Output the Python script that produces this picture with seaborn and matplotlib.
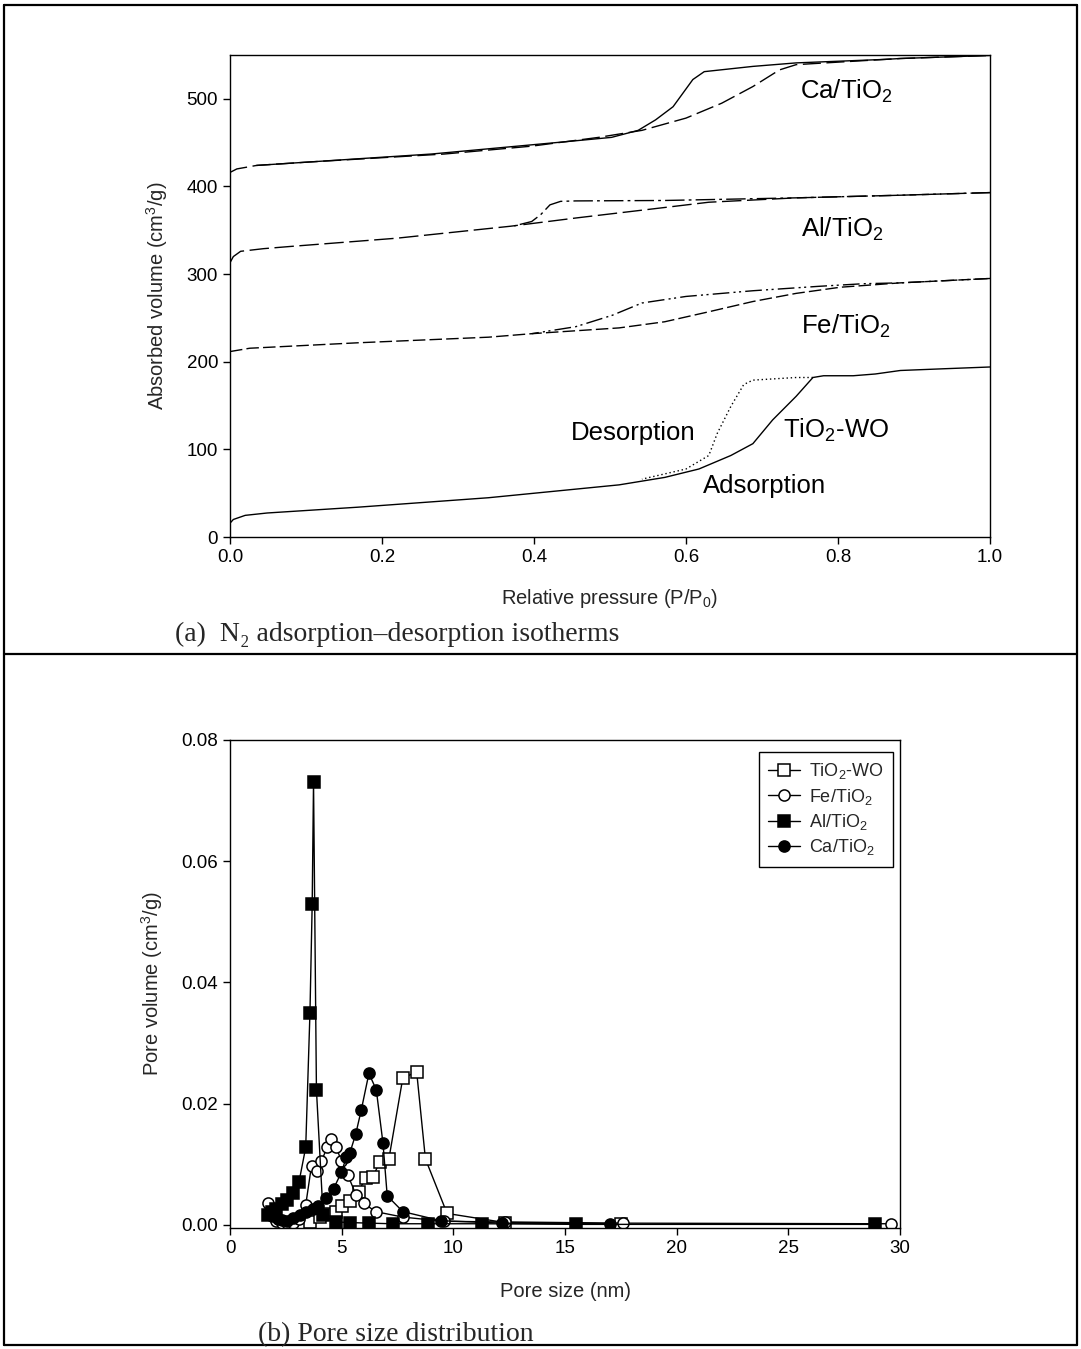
import matplotlib
matplotlib.use('Agg')
import matplotlib.pyplot as plt
import pandas as pd
import seaborn as sns
from matplotlib.lines import Line2D

# (a) N2 isotherms, relative pressure vs absorbed volume (cm3/g)
ca_ads_p = [0.0, 0.009, 0.035, 0.106, 0.282, 0.397, 0.485, 0.542, 0.6, 0.647, 0.688, 0.723, 0.745, 0.803, 0.882, 1.0]
ca_ads_v = [416, 420, 424, 428, 437, 446, 456, 464, 478, 495, 514, 533, 539, 542, 546, 549.5]
ca_des_p = [1.0, 0.882, 0.862, 0.745, 0.688, 0.624, 0.609, 0.583, 0.56, 0.537, 0.502, 0.441, 0.353, 0.265, 0.176, 0.088, 0.035]
ca_des_v = [549.5, 546, 545, 541, 537, 531, 522, 491, 476, 464, 456, 451, 444, 437, 432, 427, 424]

al_ads_p = [0.0, 0.0044, 0.014, 0.044, 0.079, 0.22, 0.369, 0.455, 0.572, 0.63, 0.745, 0.882, 1.0]
al_ads_v = [313, 320, 326, 329, 331.5, 341, 354.6, 364, 376, 382, 387, 390, 393]
al_des_p = [1.0, 0.882, 0.745, 0.572, 0.455, 0.435, 0.421, 0.409, 0.397, 0.374]
al_des_v = [393, 390, 387, 384, 383.5, 383, 379, 368, 360, 355]

fe_ads_p = [0.0, 0.026, 0.168, 0.34, 0.397, 0.512, 0.572, 0.63, 0.688, 0.745, 0.803, 0.882, 1.0]
fe_ads_v = [211.6, 215.4, 221.6, 228, 232, 238.6, 245.6, 257, 268.7, 278, 285, 290, 295]
fe_des_p = [1.0, 0.882, 0.833, 0.774, 0.688, 0.6, 0.542, 0.503, 0.455, 0.397]
fe_des_v = [295, 290, 289, 286, 281, 274.5, 267, 253, 240, 232]

wo_ads_p = [0.0, 0.0044, 0.02, 0.049, 0.168, 0.34, 0.512, 0.572, 0.617, 0.659, 0.688, 0.714, 0.745, 0.767,
            0.781, 0.82, 0.849, 0.882, 0.94, 1.0]
wo_ads_v = [15.8, 20, 24.7, 27.4, 34, 44.8, 59.5, 68, 77.6, 93, 106.5, 133.6, 160.6, 182,
            184, 184, 186, 190, 192, 194]
wo_des_p = [0.767, 0.745, 0.688, 0.676, 0.659, 0.641, 0.63, 0.6, 0.542]
wo_des_v = [182, 182, 179, 174, 149, 118, 93, 77.6, 66]

# (b) pore size distribution, pore size (nm) vs pore volume (cm3/g)
wo_size = [2.55, 2.85, 3.20, 3.57, 4.02, 4.35, 4.73, 5.03, 5.36, 5.76, 6.07, 6.40, 6.70, 7.11, 7.74, 8.36, 8.75, 9.72, 12.3, 17.5]
wo_vol = [0.0002, 0.0002, 0.0003, 0.0005, 0.0013, 0.0018, 0.0022, 0.0031, 0.0040, 0.0055, 0.0078, 0.0079,
          0.0104, 0.0108, 0.0243, 0.0252, 0.0109, 0.0019, 0.0004, 0.0002]
fe_size = [1.71, 1.86, 2.08, 2.31, 2.53, 2.80, 3.09, 3.39, 3.65, 3.90, 4.09, 4.35, 4.54, 4.76, 4.99, 5.28,
           5.65, 5.98, 6.52, 7.74, 9.6, 12.3, 17.6, 29.6]
fe_vol = [0.0037, 0.0015, 0.0007, 0.0004, 0.0003, 0.0004, 0.0010, 0.0033, 0.0098, 0.0089, 0.0105, 0.0128,
          0.0141, 0.0128, 0.0105, 0.0082, 0.0049, 0.0036, 0.0022, 0.0013, 0.0006, 0.0005, 0.0003, 0.0002]
al_size = [1.71, 1.86, 2.08, 2.31, 2.53, 2.80, 3.09, 3.39, 3.58, 3.68, 3.74, 3.87, 4.17, 4.73, 5.36, 6.22,
           7.29, 8.85, 11.3, 15.5, 28.9]
al_vol = [0.0016, 0.0022, 0.0027, 0.0034, 0.0042, 0.0052, 0.0071, 0.0128, 0.0350, 0.0529, 0.0730, 0.0223,
          0.0016, 0.0005, 0.0004, 0.0003, 0.0002, 0.0002, 0.0002, 0.0001, 0.0001]
ca_size = [1.71, 1.93, 2.15, 2.35, 2.53, 2.83, 3.12, 3.42, 3.70, 3.94, 4.32, 4.64, 4.99, 5.21, 5.36, 5.63,
           5.88, 6.22, 6.55, 6.85, 7.04, 7.74, 9.45, 12.2, 17.0]
ca_vol = [0.0019, 0.0014, 0.0010, 0.0008, 0.0007, 0.0011, 0.0016, 0.0022, 0.0027, 0.0031, 0.0045, 0.0060,
          0.0087, 0.0112, 0.0118, 0.0150, 0.0190, 0.0250, 0.0223, 0.0135, 0.0048, 0.0022, 0.0007, 0.0003, 0.0002]

sns.set_style("ticks")
plt.rcParams['font.family'] = ['Liberation Sans', 'DejaVu Sans']
plt.rcParams['mathtext.fontset'] = 'custom'
plt.rcParams['mathtext.rm'] = 'Liberation Sans'
plt.rcParams['mathtext.it'] = 'Liberation Sans:italic'
plt.rcParams['mathtext.bf'] = 'Liberation Sans:bold'

W, H = 1081, 1349
fig = plt.figure(figsize=(W / 100, H / 100), dpi=100)


def box(l, t, r, b):
    return [l / W, 1 - b / H, (r - l) / W, (b - t) / H]


def style_axes(ax):
    for s in ax.spines.values():
        s.set_visible(True)
        s.set_linewidth(1.0)
        s.set_color('k')
    ax.tick_params(direction='out', length=5, width=1, labelsize=13.5, colors='k',
                   top=False, right=False)


# ---------- (a) ----------
ax1 = fig.add_axes(box(230, 55, 990, 537))
branches = [
    (ca_ads_p, ca_ads_v, (0, (13, 4))),
    (ca_des_p, ca_des_v, '-'),
    (al_ads_p, al_ads_v, (0, (14, 4))),
    (al_des_p, al_des_v, (0, (14, 3, 2, 3))),
    (fe_ads_p, fe_ads_v, (0, (9, 3))),
    (fe_des_p, fe_des_v, (0, (12, 3, 1.5, 2.5, 1.5, 3))),
    (wo_ads_p, wo_ads_v, '-'),
    (wo_des_p, wo_des_v, (0, (1, 2))),
]
for p, v, ls in branches:
    df = pd.DataFrame({'p': p, 'v': v})
    sns.lineplot(data=df, x='p', y='v', ax=ax1, color='k', lw=1.0, linestyle=ls,
                 sort=False, estimator=None)

ax1.set_xlim(0, 1.0)
ax1.set_ylim(0, 550)
ax1.set_xticks([0.0, 0.2, 0.4, 0.6, 0.8, 1.0])
ax1.set_xticklabels(['0.0', '0.2', '0.4', '0.6', '0.8', '1.0'])
ax1.set_yticks([0, 100, 200, 300, 400, 500])
ax1.set_xlabel('Relative pressure (P/P$_0$)', fontsize=14.5, labelpad=15)
ax1.set_ylabel('Absorbed volume (cm$^3$/g)', fontsize=14.5, labelpad=12)
style_axes(ax1)

tk = dict(fontsize=18.5, color='k', va='center', ha='left')
ax1.text(0.75, 508, 'Ca/TiO$_2$', **tk)
ax1.text(0.751, 351, 'Al/TiO$_2$', **tk)
ax1.text(0.751, 240, 'Fe/TiO$_2$', **tk)
ax1.text(0.728, 122, 'TiO$_2$-WO', **tk)
ax1.text(0.449, 119, 'Desorption', **tk)
ax1.text(0.622, 58, 'Adsorption', **tk)

# ---------- (b) ----------
ax2 = fig.add_axes(box(230, 740, 900, 1228))
series = [
    ('TiO$_2$-WO', wo_size, wo_vol, 's', 'white'),
    ('Fe/TiO$_2$', fe_size, fe_vol, 'o', 'white'),
    ('Al/TiO$_2$', al_size, al_vol, 's', 'black'),
    ('Ca/TiO$_2$', ca_size, ca_vol, 'o', 'black'),
]
for name, xs, ys, mk, fc in series:
    df = pd.DataFrame({'size': xs, 'vol': ys})
    sns.lineplot(data=df, x='size', y='vol', ax=ax2, color='k', lw=1.0, marker=mk,
                 markersize=8, markerfacecolor=fc, markeredgecolor='k', markeredgewidth=1.1,
                 sort=False, estimator=None, label=name)

ax2.set_xlim(0, 30)
ax2.set_ylim(-0.0005, 0.08)
ax2.set_xticks([0, 5, 10, 15, 20, 25, 30])
ax2.set_yticks([0.0, 0.02, 0.04, 0.06, 0.08])
ax2.set_yticklabels(['0.00', '0.02', '0.04', '0.06', '0.08'])
ax2.set_xlabel('Pore size (nm)', fontsize=14.5, labelpad=18)
ax2.set_ylabel('Pore volume (cm$^3$/g)', fontsize=14.5, labelpad=12)
style_axes(ax2)
leg = ax2.legend(loc='upper right', bbox_to_anchor=(0.9896, 0.975), borderaxespad=0, fontsize=13,
                 frameon=True, fancybox=False, framealpha=1, edgecolor='k',
                 handlelength=1.8, handletextpad=0.5, borderpad=0.5, labelspacing=0.3)
leg.get_frame().set_linewidth(1.0)

# ---------- table frame and captions ----------
lw = 1.6
for (x0, y0, x1, y1) in [(4, 5, 1077, 5), (4, 1345, 1077, 1345), (4, 5, 4, 1345),
                         (1077, 5, 1077, 1345), (4, 654, 1077, 654)]:
    fig.add_artist(Line2D([x0 / W, x1 / W], [1 - y0 / H, 1 - y1 / H], color='k', lw=lw))

cap = dict(fontsize=20, family=['Liberation Serif', 'DejaVu Serif'], va='baseline', ha='left')
fig.text(175 / W, 1 - 641 / H, '(a)  N\u2082 adsorption\u2013desorption isotherms', **cap)
fig.text(258 / W, 1 - 1341 / H, '(b) Pore size distribution', **cap)

fig.savefig('out.png', dpi=100)
